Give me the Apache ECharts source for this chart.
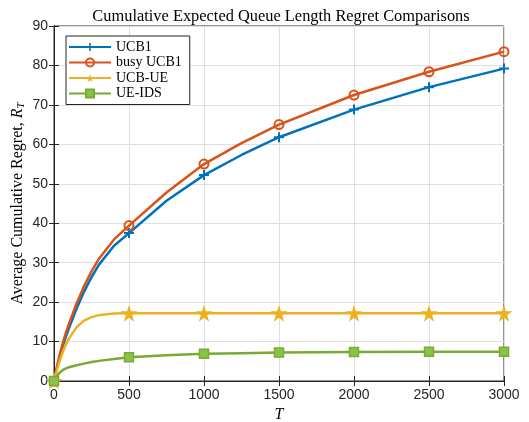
<!DOCTYPE html>
<html lang="en">
<head>
    <meta charset="utf-8">
    <title>Cumulative Expected Queue Length Regret Comparisons</title>
    <script src="https://cdn.jsdelivr.net/npm/echarts@6/dist/echarts.min.js"></script>
    <style type="text/css">
        html, body {margin: 0; padding: 0; background: #fff;}
        #chart {width: 529px; height: 422px;}
    </style>
</head>
<body>
    <div id="chart"></div>
    <script>
        // horizon T (markers every 500)
        var T = [0, 20, 40, 60, 80, 100, 150, 200, 250, 300, 400, 500, 750, 1000, 1250, 1500, 2000, 2500, 3000];
        var ucb1 = [0, 3.4, 6.3, 9, 11.3, 13.4, 18.3, 22.6, 26.3, 29.5, 34.3, 37.5, 45.7, 52.2, 57.3, 61.8, 68.8, 74.5, 79.2];
        var busyUcb1 = [0, 3.8, 7, 9.8, 12.3, 14.5, 19.6, 24, 27.8, 31, 35.9, 39.4, 47.8, 55, 60.3, 65, 72.5, 78.4, 83.5];
        var ucbUe = [0, 2.8, 5.3, 7.5, 9.3, 10.8, 13.6, 15.3, 16.2, 16.7, 17.1, 17.2, 17.2, 17.2, 17.2, 17.2, 17.2, 17.2, 17.2];
        var ueIds = [0, 1.3, 2.2, 2.8, 3.2, 3.5, 4.0, 4.4, 4.8, 5.1, 5.6, 6.0, 6.5, 6.9, 7.05, 7.2, 7.35, 7.4, 7.4];
        var names = ['UCB1', 'busy UCB1', 'UCB-UE', 'UE-IDS'];

        var colors = ['#0072BD', '#D95319', '#EDB120', '#77AC30'];
        var plus = 'path://M4,0H6V4H10V6H6V10H4V6H0V4H4Z';
        var star = 'path://M50,0L61,35L98,35L68,57L79,91L50,70L21,91L32,57L2,35L39,35Z';
        var axisCol = '#262626';
        var serif = 'Liberation Serif';

        function pts(ys) {
            // markers only where T is a multiple of 500
            return T.map(function (t, i) {
                var d = {value: [t, ys[i]]};
                if (t % 500 !== 0) d.symbol = 'none';
                return d;
            });
        }

        function line(name, ys, col, sym, size, style) {
            return {
                name: name, type: 'line', data: pts(ys),
                smooth: false,
                symbol: sym, symbolSize: size, showAllSymbol: true,
                lineStyle: {color: col, width: 2.5},
                itemStyle: style,
                z: 3
            };
        }

        var chart = echarts.init(document.getElementById('chart'));
        chart.setOption({
            animation: false,
            backgroundColor: '#fff',
            title: {
                text: 'Cumulative Expected Queue Length Regret Comparisons',
                left: 276, top: 4, textAlign: 'center',
                textStyle: {fontFamily: serif, fontSize: 16.4, fontWeight: 'normal', color: '#000'}
            },
            grid: {left: 54, right: 25, top: 26, bottom: 41, show: true, borderColor: axisCol, borderWidth: 1,
                containLabel: false, outerBoundsMode: 'none'},
            legend: {
                orient: 'vertical', left: 66, top: 36,
                data: names,
                itemWidth: 42, itemHeight: 10, itemGap: 1.5,
                padding: [4, 8, 4, 2],
                borderColor: axisCol, borderWidth: 1, backgroundColor: '#fff',
                textStyle: {fontFamily: serif, fontSize: 14, color: '#000'}
            },
            xAxis: [{
                type: 'value', min: 0, max: 3000, interval: 500,
                name: 'T', nameLocation: 'middle', nameGap: 26,
                nameTextStyle: {fontFamily: serif, fontStyle: 'italic', fontSize: 16, color: '#000'},
                axisLine: {lineStyle: {color: axisCol}},
                axisTick: {inside: true, length: 5, lineStyle: {color: axisCol}},
                axisLabel: {fontFamily: 'Liberation Sans', fontSize: 14, color: axisCol, margin: 7,
                    formatter: function (v) { return String(v); }},
                splitLine: {show: true, lineStyle: {color: '#dfdfdf'}}
            }, {
                type: 'value', position: 'top', min: 0, max: 3000, interval: 500,
                axisLine: {show: true, lineStyle: {color: axisCol}},
                axisTick: {inside: true, length: 5, lineStyle: {color: axisCol}},
                axisLabel: {show: false}, splitLine: {show: false}
            }],
            yAxis: [{
                type: 'value', min: 0, max: 90, interval: 10,
                name: 'Average Cumulative Regret, {i|R}{s|T}', nameLocation: 'middle', nameGap: 27,
                nameMoveOverlap: false,
                nameTextStyle: {
                    fontFamily: serif, fontSize: 16, color: '#000',
                    rich: {
                        i: {fontFamily: serif, fontStyle: 'italic', fontSize: 16, color: '#000'},
                        s: {fontFamily: serif, fontStyle: 'italic', fontSize: 11, color: '#000', verticalAlign: 'bottom', padding: [7, 0, 0, 0]}
                    }
                },
                axisLine: {show: true, lineStyle: {color: axisCol}},
                axisTick: {show: true, inside: true, length: 5, lineStyle: {color: axisCol}},
                axisLabel: {fontFamily: 'Liberation Sans', fontSize: 14, color: axisCol, margin: 6},
                splitLine: {show: true, lineStyle: {color: '#dfdfdf'}}
            }, {
                type: 'value', position: 'right', min: 0, max: 90, interval: 10,
                axisLine: {show: true, lineStyle: {color: axisCol}},
                axisTick: {show: true, inside: true, length: 5, lineStyle: {color: axisCol}},
                axisLabel: {show: false}, splitLine: {show: false}
            }],
            series: [
                line(names[0], ucb1, colors[0], plus, 10, {color: colors[0]}),
                line(names[1], busyUcb1, colors[1], 'circle', 9, {color: 'rgba(0,0,0,0)', borderColor: colors[1], borderWidth: 2}),
                line(names[2], ucbUe, colors[2], star, 17, {color: colors[2]}),
                line(names[3], ueIds, colors[3], 'rect', 9, {color: '#8cc04a', borderColor: colors[3], borderWidth: 1.5})
            ]
        });
    </script>
</body>
</html>
